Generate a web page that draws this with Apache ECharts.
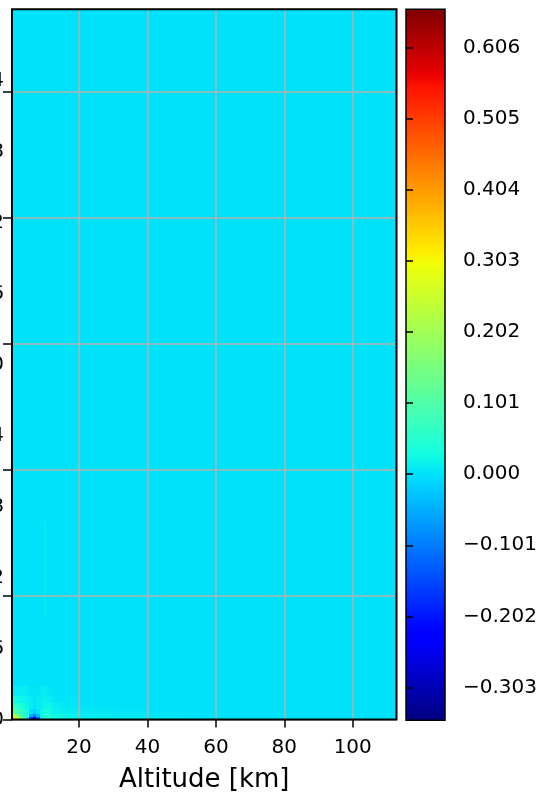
<!DOCTYPE html>
<html><head><meta charset="utf-8">
<script src="https://cdn.jsdelivr.net/npm/echarts@6/dist/echarts.min.js"></script>
<style>html,body{margin:0;padding:0;background:#fff}#c{width:544px;height:795px}</style>
</head><body><div id="c"></div>
<script>
// Cell edges (data units) of the contour field
const xEdges = [0.4, 1.5, 2.5, 3.5, 4.5, 5.5, 6.5, 7.5, 8.5, 9.5, 10.5, 11.5, 12.5, 14, 16, 20, 25, 30, 40, 50, 60, 112.8];
const yEdges = [0, 0.25, 0.5, 0.9, 1.4, 2.0, 2.8, 60];
// Values, rows from bottom to top, one per x cell
const row0 = [0.32, 0.25, 0.15, 0.08, 0.02, -0.15, -0.25, -0.12, 0.02, 0.05, 0.08, 0.04, 0.03, 0.025, 0.02, 0.015, 0.012, 0.01, 0.008, 0.004, 0.0];
const row1 = [0.22, 0.17, 0.10, 0.06, 0.03, -0.05, -0.10, -0.04, 0.02, 0.04, 0.05, 0.03, 0.025, 0.02, 0.015, 0.012, 0.01, 0.008, 0.005, 0.002, 0.0];
const row2 = [0.12, 0.09, 0.06, 0.04, 0.03, 0.0, -0.02, 0.0, 0.02, 0.03, 0.03, 0.02, 0.015, 0.012, 0.01, 0.008, 0.006, 0.004, 0.002, 0.0, 0.0];
const row3 = [0.06, 0.05, 0.04, 0.03, 0.02, 0.01, 0.0, 0.01, 0.015, 0.02, 0.02, 0.015, 0.01, 0.008, 0.006, 0.004, 0.002, 0.001, 0.0, 0.0, 0.0];
const row4 = [0.03, 0.025, 0.02, 0.02, 0.015, 0.01, 0.005, 0.008, 0.012, 0.015, 0.012, 0.008, 0.005, 0.003, 0.002, 0.001, 0.0, 0.0, 0.0, 0.0, 0.0];
const row5 = [0.01, 0.01, 0.01, 0.012, 0.008, 0.004, 0.002, 0.004, 0.008, 0.01, 0.006, 0.003, 0.001, 0.0, 0.0, 0.0, 0.0, 0.0, 0.0, 0.0, 0.0];
const row6 = [0, 0, 0, 0, 0, 0, 0, 0, 0, 0, 0, 0, 0, 0, 0, 0, 0, 0, 0, 0, 0];
const values = [row0, row1, row2, row3, row4, row5, row6];
// faint streak: [x0, x1, y0, y1, value]
const streak = [[9.8, 10.3, 8.7, 16.6, 0.008]];

const xTickValues = [20, 40, 60, 80, 100];
const yLabelValues = [0, 6, 12, 18, 24, 30, 36, 42, 48, 54];
const yGridValues = [0, 10.43, 21.07, 31.71, 42.35, 53.03];
const cbTickValues = [-0.303, -0.202, -0.101, 0.0, 0.101, 0.202, 0.303, 0.404, 0.505, 0.606];
const cbMin = -0.3495, cbMax = 0.660;

// matplotlib "jet" colormap segment definitions (style, not data)
const jetSeg = {
  r: [[0, 0], [0.35, 0], [0.66, 1], [0.89, 1], [1, 0.5]],
  g: [[0, 0], [0.125, 0], [0.375, 1], [0.64, 1], [0.91, 0], [1, 0]],
  b: [[0, 0.5], [0.11, 1], [0.34, 1], [0.65, 0], [1, 0]]
};
function segVal(seg, t) {
  for (let i = 1; i < seg.length; i++) {
    if (t <= seg[i][0]) {
      const a = seg[i - 1], b = seg[i];
      return a[1] + (b[1] - a[1]) * (t - a[0]) / (b[0] - a[0]);
    }
  }
  return seg[seg.length - 1][1];
}
const jet = [];
for (let i = 0; i <= 100; i++) {
  const t = i / 100;
  const c = ['r', 'g', 'b'].map(k => Math.round(255 * segVal(jetSeg[k], t)));
  jet.push('rgb(' + c.join(',') + ')');
}

const cells = [];
for (let r = 0; r < values.length; r++) {
  for (let c = 0; c < values[r].length; c++) {
    cells.push([xEdges[c], xEdges[c + 1], yEdges[r], yEdges[r + 1], values[r][c]]);
  }
}
streak.forEach(s => cells.push(s));

function renderItem(params, api) {
  const p0 = api.coord([api.value(0), api.value(3)]);
  const p1 = api.coord([api.value(1), api.value(2)]);
  const x0 = Math.round(p0[0]), y0 = Math.round(p0[1]);
  const x1 = Math.round(p1[0]), y1 = Math.round(p1[1]);
  return { type: 'rect', shape: { x: x0, y: y0, width: x1 - x0, height: y1 - y0 },
           style: { fill: api.visual('color') } };
}

const font = 'DejaVu Sans';
const chart = echarts.init(document.getElementById('c'), null, { renderer: 'canvas' });
chart.setOption({
  animation: false,
  textStyle: { fontFamily: font },
  grid: [
    { left: 12, right: 147.5, top: 9.3, bottom: 75.5, show: true, z: 5, containLabel: false, outerBoundsMode: 'none',
      backgroundColor: 'transparent', borderColor: '#000', borderWidth: 2 },
    { left: 406, width: 39, top: 9.3, height: 711, show: true, z: 10, containLabel: false, outerBoundsMode: 'none',
      backgroundColor: 'transparent', borderColor: '#000', borderWidth: 1.5 }
  ],
  xAxis: [
    { type: 'value', gridIndex: 0, min: 0.4, max: 112.8, z: 3,
      name: 'Altitude [km]', nameLocation: 'middle', nameGap: 48,
      nameTextStyle: { fontFamily: font, fontSize: 26, color: '#000' },
      axisLine: { show: false },
      axisTick: { show: true, length: 8, inside: false, customValues: xTickValues,
                  lineStyle: { color: '#000', width: 1.5 } },
      axisLabel: { customValues: xTickValues, margin: 18, fontFamily: font, fontSize: 20, color: '#000' },
      splitLine: { show: true, lineStyle: { color: '#b0b0b0', width: 1.5 } } },
    { type: 'value', gridIndex: 1, show: false, min: 0, max: 1 }
  ],
  yAxis: [
    { type: 'value', gridIndex: 0, min: 0, max: 60, z: 3, position: 'left',
      axisLine: { show: false },
      axisTick: { show: true, length: 9, customValues: yGridValues,
                  lineStyle: { color: '#000', width: 1.5 } },
      axisLabel: { customValues: yLabelValues, margin: 8, fontFamily: font, fontSize: 20, color: '#000' },
      splitLine: { show: true, lineStyle: { color: '#b0b0b0', width: 1.5 } } },
    { type: 'value', gridIndex: 1, min: cbMin, max: cbMax, position: 'right', z: 11,
      axisLine: { show: false },
      axisTick: { show: true, length: 7, customValues: cbTickValues,
                  lineStyle: { color: '#000', width: 1.5 } },
      axisLabel: { customValues: cbTickValues, margin: 18, fontFamily: font, fontSize: 20, color: '#000',
                   formatter: v => (v < 0 ? '\u2212' : '') + Math.abs(v).toFixed(3) },
      splitLine: { show: false } }
  ],
  visualMap: {
    type: 'continuous', min: cbMin, max: cbMax, dimension: 4, seriesIndex: 0,
    inRange: { color: jet }, calculable: false, orient: 'vertical',
    left: 406, top: 9.3, itemWidth: 39, itemHeight: 711, padding: 0, text: null, z: 4
  },
  series: [{
    type: 'custom', xAxisIndex: 0, yAxisIndex: 0, clip: true, z: 2,
    renderItem: renderItem,
    encode: { x: [0, 1], y: [2, 3] },
    data: cells
  }]
});
</script></body></html>
